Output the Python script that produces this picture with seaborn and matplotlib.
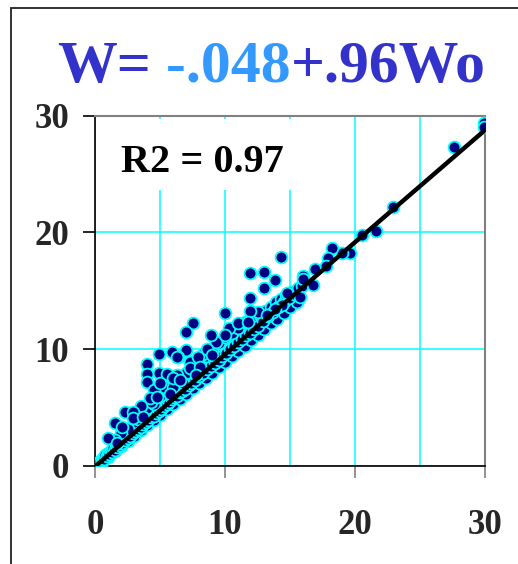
import matplotlib
matplotlib.use("Agg")
import matplotlib.pyplot as plt
import seaborn as sns
import pandas as pd
import numpy as np
from matplotlib.patches import Rectangle

# ---------------- data ----------------
title_parts = ["W=", " -.048", "+.96Wo"]
intercept = -0.048
slope = 0.96
r2_label = "R2 = 0.97"
x_ticks = [0, 10, 20, 30]
y_ticks = [0, 10, 20, 30]

wo_out = [29.9, 29.9, 27.6, 22.9, 21.6, 20.5, 19.6, 19.0, 18.2, 17.9, 16.9, 17.8, 16.0, 16.0, 16.8,
          15.8, 14.8, 14.4, 13.85, 13.2, 14.3, 11.9, 13.0, 13.85, 13.0, 11.9, 11.9, 10.0, 7.55, 7.0,
          8.9, 10.0, 11.0, 11.75, 4.9, 5.9, 7.0, 6.4, 8.6, 9.0, 7.9, 4.9, 5.5, 6.0, 6.8, 6.0,
          4.0, 4.0, 4.0, 4.5, 4.2, 5.0, 3.5, 2.3, 2.9, 1.5, 2.1, 1.0, 1.7, 2.9, 3.7, 4.8, 5.8, 6.0,
          6.5, 7.3, 8.1, 7.8, 6.3]
w_out = [29.4, 29.0, 27.3, 22.2, 20.1, 19.8, 18.2, 18.2, 18.7, 17.8, 16.9, 17.1, 16.3, 16.0, 15.5,
         14.5, 14.8, 13.8, 13.4, 12.9, 17.9, 16.5, 16.6, 15.9, 15.2, 14.4, 13.3, 13.1, 12.2, 11.5,
         11.2, 11.2, 12.2, 12.3, 9.6, 9.8, 9.9, 9.3, 10.0, 9.5, 9.3, 8.0, 7.9, 7.4, 7.1, 6.8,
         8.7, 7.9, 7.2, 6.5, 5.8, 7.1, 5.1, 4.6, 4.6, 3.7, 3.3, 2.4, 2.0, 4.1, 4.2, 5.9, 6.2, 7.5,
         7.4, 8.4, 8.5, 7.8, 9.3]

wo_band = [0.1, 0.2, 0.3, 0.4, 0.5, 0.6, 0.7, 0.8, 0.9, 1.0, 1.1, 1.2, 1.3, 1.4, 1.5, 1.6, 1.7, 1.8,
           1.9, 2.0, 2.1, 2.2, 2.3, 2.4, 2.5, 2.6, 2.7, 2.8, 2.9, 3.0, 3.1, 3.2, 3.3, 3.4, 3.5, 3.6,
           3.7, 3.8, 3.9, 4.0, 4.1, 4.2, 4.3, 4.4, 4.5, 4.6, 4.7, 4.8, 4.9, 5.0, 5.1, 5.2, 5.3, 5.4,
           5.5, 5.6, 5.7, 5.8, 5.9, 6.0, 6.1, 6.2, 6.3, 6.4, 6.5, 6.6, 6.7, 6.8, 6.9, 7.0, 7.2, 7.3,
           7.4, 7.6, 7.7, 7.9, 8.0, 8.2, 8.3, 8.5, 8.6, 8.8, 8.9, 9.1, 9.2, 9.4, 9.5, 9.7, 9.8, 10.0,
           10.1, 10.3, 10.4, 10.6, 10.7, 10.9, 11.0, 11.2, 11.3, 11.5, 11.6, 11.8, 11.9, 12.1, 12.2,
           12.4, 12.5, 12.7, 12.9, 13.1, 13.3, 13.5, 13.7, 13.9, 14.1, 14.3, 14.5, 14.7, 14.9, 15.1,
           15.3, 15.6, 15.9]
w_band = [0.1, 0.2, 0.25, 0.45, 0.5, 0.65, 0.6, 0.9, 0.85, 1.1, 1.0, 1.3, 1.2, 1.5, 1.4, 1.8, 1.6, 1.9,
          1.8, 2.2, 2.0, 2.4, 2.2, 2.6, 2.4, 2.9, 2.6, 3.0, 2.8, 3.3, 3.0, 3.5, 3.2, 3.6, 3.3, 3.9,
          3.6, 4.1, 3.8, 4.3, 3.9, 4.6, 4.2, 4.8, 4.3, 4.9, 4.5, 5.2, 4.7, 5.3, 4.9, 5.6, 5.1, 5.8,
          5.3, 6.0, 5.5, 6.2, 5.7, 6.4, 5.9, 6.6, 6.0, 6.8, 6.3, 7.0, 6.4, 7.2, 6.6, 7.4, 6.9, 7.8,
          7.1, 8.0, 7.4, 8.3, 7.7, 8.6, 8.0, 8.9, 8.3, 9.2, 8.6, 9.5, 8.8, 9.8, 9.1, 10.1, 9.4, 10.4,
          9.7, 10.7, 10.0, 11.0, 10.3, 11.3, 10.6, 11.5, 10.9, 11.8, 11.2, 12.1, 11.4, 12.4, 11.7,
          12.6, 12.0, 12.9, 12.4, 13.3, 12.8, 13.6, 13.2, 14.0, 13.6, 14.3, 14.0, 14.6, 14.4, 14.9,
          14.7, 15.2, 15.4]

wo_low = [0.5, 1.0, 1.5, 2.0, 2.5, 3.0, 3.5, 4.0, 4.5, 5.0, 5.5, 6.0, 6.5, 7.0, 7.5, 8.0, 8.5, 9.0,
          9.5, 10.0, 10.5, 11.0, 11.5, 12.0, 12.5, 13.0, 13.5, 14.0, 14.5, 15.0, 15.5]
w_low = [0.35, 0.8, 1.25, 1.7, 2.15, 2.6, 3.05, 3.5, 3.95, 4.4, 4.85, 5.3, 5.75, 6.2, 6.65, 7.1, 7.55,
         8.0, 8.45, 8.9, 9.4, 9.85, 10.3, 10.8, 11.2, 11.7, 12.2, 12.6, 13.1, 13.6, 14.0]

wo_mid = [3.0, 3.5, 4.0, 4.5, 5.0, 5.5, 6.0, 6.5, 7.0, 7.5, 8.0, 8.5, 9.0, 9.5, 10.0, 10.5, 11.0,
          11.5, 12.5, 3.3, 4.3, 5.3, 6.3, 7.3, 8.3, 9.3, 10.3, 2.5, 2.0, 1.5]
w_mid = [3.8, 4.4, 5.0, 5.3, 6.0, 6.5, 7.0, 7.6, 8.0, 8.6, 9.0, 9.4, 10.0, 10.5, 11.0, 11.4, 11.8,
         12.3, 13.2, 4.0, 5.5, 6.8, 7.8, 8.9, 9.6, 10.6, 11.8, 3.2, 2.8, 2.2]

df = pd.DataFrame({"Wo": wo_low + wo_band + wo_mid + wo_out,
                   "W": w_low + w_band + w_mid + w_out})

# ---------------- style ----------------
sns.set_theme(style="white")
plt.rcParams["font.family"] = ["Liberation Serif", "DejaVu Serif"]
plt.rcParams["font.weight"] = "bold"

W, H = 518, 564
fig = plt.figure(figsize=(W / 100, H / 100), dpi=100)
ax = fig.add_axes([95 / W, 1 - 466 / H, 390 / W, 350.5 / H])

ax.set_xlim(0, 30)
ax.set_ylim(0, 30)
ax.set_xticks(x_ticks)
ax.set_yticks(y_ticks)
ax.set_xticks([5, 15, 25], minor=True)
ax.set_xticklabels([str(t) for t in x_ticks])
ax.set_yticklabels([str(t) for t in y_ticks])

ax.grid(True, which="both", axis="x", color="#00FFFF", linewidth=1.1)
ax.grid(True, which="major", axis="y", color="#00FFFF", linewidth=1.1)
ax.set_axisbelow(True)

ax.tick_params(axis="x", which="major", direction="out", length=8.6, width=1.2, color="#808080",
               pad=22, labelsize=25, bottom=True)
ax.tick_params(axis="x", which="minor", length=0)
ax.tick_params(axis="y", which="major", direction="out", length=8.6, width=1.2, color="black",
               pad=10, labelsize=25, left=True)
for lab in ax.get_xticklabels() + ax.get_yticklabels():
    lab.set_fontweight("bold")

for side in ["left", "bottom"]:
    ax.spines[side].set_color("black")
    ax.spines[side].set_linewidth(1.2)
for side in ["top", "right"]:
    ax.spines[side].set_color("#808080")
    ax.spines[side].set_linewidth(1.5)

# white box behind R2 label (cuts grid)
ax.add_patch(Rectangle((0.4, 23.6), 15.4, 6.1, facecolor="white", edgecolor="none", zorder=1))

sns.scatterplot(data=df, x="Wo", y="W", ax=ax, s=72, color="#000080", edgecolor="#00FFFF",
                linewidth=1.3, zorder=3, legend=False)

xl = np.array([0.0, 30.0])
ax.plot(xl, intercept + slope * xl, color="black", linewidth=3.2, zorder=4, solid_capstyle="butt")

ax.set_xlabel("")
ax.set_ylabel("")
ax.text(2.0, 25.2, r2_label, fontsize=29, fontweight="bold", color="black", va="baseline",
        ha="left", zorder=5)

# figure border (partially visible)
fig.patches.append(Rectangle((11 / W, -0.1), 1.2, 1.1 - 8 / H, transform=fig.transFigure,
                             facecolor="none", edgecolor="#222222", linewidth=1.3, figure=fig))

# multi-colour title
fig.canvas.draw()
r = fig.canvas.get_renderer()
colors = ["#3333CC", "#3399FF", "#3333CC"]
xpos = 57 / W
ybase = 1 - 82 / H
for txt, col in zip(title_parts, colors):
    t = fig.text(xpos, ybase, txt, color=col, fontsize=43, fontweight="bold", ha="left",
                 va="baseline")
    bb = t.get_window_extent(r)
    xpos += bb.width / fig.bbox.width

fig.savefig("out.png", dpi=100)
